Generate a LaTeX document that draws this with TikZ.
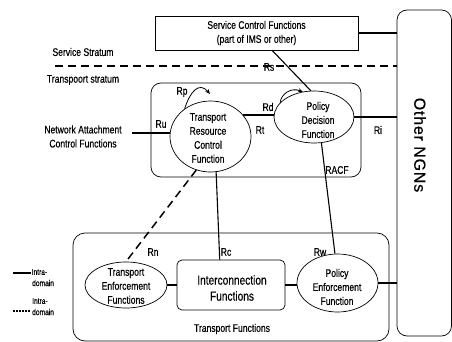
\documentclass[tikz,border=0pt]{standalone}
\usepackage{fontspec}
\setmainfont{Liberation Sans}[FakeStretch=0.78, FakeBold=0.4]
\newfontfamily\ngnfont{Liberation Sans}[LetterSpace=5, FakeBold=0.6]
\usetikzlibrary{arrows.meta,shapes.geometric}
\begin{document}
\begin{tikzpicture}[x=1pt,y=-1pt,
  font=\fontsize{11}{14}\selectfont,
  frame/.style={draw, line width=0.7pt, inner sep=0pt},
  fn/.style={draw, ellipse, line width=0.7pt, inner sep=0pt},
  txt/.style={inner sep=0pt, align=center},
  link/.style={line width=1.8pt},
  wire/.style={line width=1.1pt},
  hop/.style={line width=0.8pt, -{Stealth[length=5pt,width=4pt]}},
  smalltxt/.style={inner sep=0pt, anchor=west, font=\fontsize{8.5}{10}\selectfont}]
\useasboundingbox (0,0) rectangle (452,342);

% enclosing boxes
\node[frame, rounded corners=10pt, minimum width=54.5, minimum height=326] (ngn) at (424.25,173) {};
\node[txt, rotate=-90, font=\ngnfont\fontsize{16}{19}\selectfont] (ngnlabel) at (420,145) {Other NGNs};
\node[frame, rounded corners=10pt, minimum width=210, minimum height=94] (racf) at (256,130) {};
\node[txt] (racflabel) at (337,170) {RACF};
\node[frame, rounded corners=12pt, minimum width=316, minimum height=108] (tf) at (231,287) {};
\node[txt] (tflabel) at (232,329) {Transport Functions};

% service stratum
\node[frame, minimum width=203, minimum height=34, align=center] (scf) at (256.5,33) {Service Control Functions\\(part of IMS or other)};
\node[txt] (svc) at (83,52) {Service Stratum};
\node[txt] (trs) at (83,80) {Transpoort stratum};
\coordinate (strL) at (55,66);
\draw[link, dash pattern=on 8pt off 5pt] (strL) -- (strL -| ngn.west);

% control functions
\node[fn, minimum width=81, minimum height=71] (trcf) at (210.5,136.5) {};
\node[txt] (trcftext) at (208,138) {Transport\\Resource\\Control\\Function};
\node[fn, minimum width=80, minimum height=52] (pdf) at (314,117) {};
\node[txt] (pdftext) at (318,120) {Policy\\Decision\\Function};
\node[txt] (nacf) at (83,136.5) {Network Attachment\\Control Functions};
\coordinate (ruL) at (132,133);

% transport functions
\node[fn, minimum width=82, minimum height=46] (tef) at (126,285) {};
\node[txt] (teftext) at (126,286) {Transport\\Enforcement\\Functions};
\node[frame, rounded corners=5pt, minimum width=108, minimum height=50] (ifn) at (231,285) {};
\node[txt, font=\fontsize{13}{16}\selectfont] (iftext) at (232,288) {Interconnection\\Functions};
\node[fn, minimum width=81, minimum height=58] (pef) at (337.5,283) {};
\node[txt] (peftext) at (337,287) {Policy\\Enforcement\\Function};

% reference points
\draw[wire] (scf.-48) -- (pdf.97);
\draw[link] (scf.east) -- (scf.east -| ngn.west);
\draw[link] (ruL) -- (ruL -| trcf.west);
\draw[link] (trcf.34) -- (trcf.34 -| pdf.west);
\draw[link] (pdf.east) -- (pdf.east -| ngn.west);
\draw[line width=1.5pt, dash pattern=on 8pt off 5pt] (trcf.-113) -- (tef.north);
\draw[wire] (trcf.-81) -- (ifn.114);
\draw[wire] (pdf.-74) -- (pef.95);
\draw[link] (tef.east) -- (ifn.west);
\draw[link] (ifn.east) -- (ifn.east -| pef.west);
\draw[link] (pef.east) -- (pef.east -| ngn.west);

\coordinate (rpTip) at (210,94);
\coordinate (rdTip) at (303,92);
\draw[hop] (trcf.133) .. controls (190,92) and (199,81) .. (rpTip);
\draw[hop] (pdf.157) .. controls (281,94) and (291,87) .. (rdTip);

\node[txt] (rs) at (269,67) {Rs};
\node[txt] (rp) at (182,92) {Rp};
\node[txt] (ru) at (161,124) {Ru};
\node[txt] (rd) at (268,107) {Rd};
\node[txt] (rt) at (260,130) {Rt};
\node[txt] (ri) at (378,130) {Ri};
\node[txt] (rn) at (153,252) {Rn};
\node[txt] (rc) at (226,252) {Rc};
\node[txt] (rw) at (320,252) {Rw};

% legend
\coordinate (lgA) at (13,273);
\coordinate (lgB) at (31,273);
\draw[line width=1.5pt] (lgA) -- (lgB);
\node[smalltxt] (lgA1) at (31.5,272) {Intra-};
\node[smalltxt] (lgA2) at (32,283) {domain};
\coordinate (lgC) at (13,311);
\coordinate (lgD) at (31,311);
\draw[line width=1.2pt, dash pattern=on 1.5pt off 1.5pt] (lgC) -- (lgD);
\node[smalltxt] (lgB1) at (32,301) {Intra-};
\node[smalltxt] (lgB2) at (32,312) {domain};
\end{tikzpicture}
\end{document}
